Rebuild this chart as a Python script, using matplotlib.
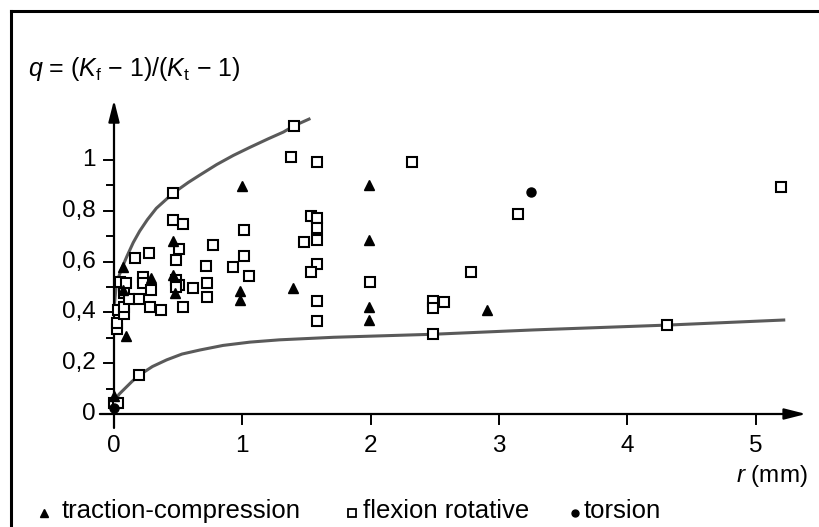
import numpy as np
import matplotlib.pyplot as plt
from matplotlib.lines import Line2D

plt.rcParams["font.family"] = ["Liberation Sans", "DejaVu Sans"]
plt.rcParams["mathtext.fontset"] = "custom"
plt.rcParams["mathtext.rm"] = "Liberation Sans"
plt.rcParams["mathtext.it"] = "Liberation Sans:italic"

# ── Data (r in mm, q) ─────────────────────────────────────────

# traction-compression (filled triangles)
tri_r = [0.00, 0.09, 0.073, 0.073, 0.286, 0.46, 0.46, 0.475, 0.995, 0.982,
         0.982, 1.393, 1.99, 1.99, 1.99, 1.99, 2.91]
tri_q = [0.07, 0.307, 0.58, 0.488, 0.534, 0.68, 0.547, 0.478, 0.898, 0.485,
         0.449, 0.497, 0.90, 0.685, 0.42, 0.37, 0.409]

# flexion rotative (hollow squares)
sq_r = [0.00, 0.03, 0.02, 0.02, 0.034, 0.078, 0.078, 0.078, 0.047, 0.094,
        0.12, 0.197, 0.46, 1.405, 2.49, 4.31,
        0.164, 0.275, 0.224, 0.224, 0.286, 0.197, 0.28, 0.37, 0.54, 0.457,
        0.54, 0.51, 0.48, 0.48, 0.509, 0.48, 0.618, 0.72, 0.727, 0.727,
        0.77, 0.93, 1.013, 1.013, 1.05, 1.377, 1.585, 2.32, 1.535, 1.585,
        1.585, 1.585, 1.48, 1.585, 1.535, 1.585, 1.585, 1.995, 2.484, 2.484,
        2.575, 2.78, 3.15, 5.20]
sq_q = [0.045, 0.045, 0.333, 0.357, 0.41, 0.394, 0.42, 0.478, 0.521, 0.514,
        0.453, 0.153, 0.869, 1.135, 0.314, 0.350,
        0.613, 0.633, 0.54, 0.514, 0.488, 0.453, 0.42, 0.41, 0.42, 0.764,
        0.748, 0.65, 0.606, 0.528, 0.508, 0.499, 0.495, 0.583, 0.517, 0.459,
        0.665, 0.578, 0.724, 0.622, 0.543, 1.01, 0.991, 0.991, 0.78, 0.773,
        0.734, 0.685, 0.676, 0.59, 0.56, 0.444, 0.366, 0.52, 0.445, 0.417,
        0.44, 0.56, 0.787, 0.892]

# torsion (filled dots)
dot_r = [3.25, 0.00]
dot_q = [0.875, 0.025]

# envelope curves
upper_r = [0.005, 0.016, 0.04, 0.07, 0.10, 0.15, 0.20, 0.26, 0.33, 0.46,
           0.58, 0.67, 0.80, 0.93, 1.06, 1.20, 1.32, 1.405, 1.52]
upper_q = [0.44, 0.50, 0.545, 0.585, 0.62, 0.675, 0.72, 0.765, 0.81, 0.869,
           0.912, 0.941, 0.982, 1.018, 1.05, 1.083, 1.11, 1.135, 1.161]
lower_r = [0.01, 0.04, 0.086, 0.14, 0.197, 0.30, 0.41, 0.53, 0.67, 0.85,
           1.06, 1.29, 1.71, 2.49, 3.27, 4.31, 5.22]
lower_q = [0.055, 0.078, 0.101, 0.128, 0.153, 0.187, 0.213, 0.236, 0.252,
           0.270, 0.283, 0.292, 0.302, 0.314, 0.331, 0.350, 0.370]

x_ticks = [0, 1, 2, 3, 4, 5]
y_ticks = [0, 0.2, 0.4, 0.6, 0.8, 1.0]
y_labels = ["0", "0,2", "0,4", "0,6", "0,8", "1"]
y_minor = [0.1, 0.3, 0.5, 0.7, 0.9]

# ── Figure: axes fill the canvas, limits chosen from pixel scale ──
W, H = 820, 527
X0, SX = 114, 128.3      # px of r=0, px per mm
Y0, SY = 414, 254        # px of q=0 (from top), px per unit

fig = plt.figure(figsize=(W / 100, H / 100), dpi=100)
ax = fig.add_axes([0, 0, 1, 1])
ax.set_xlim(-X0 / SX, (W - X0) / SX)
ax.set_ylim((Y0 - H) / SY, Y0 / SY)
ax.axis("off")

# frame (left + top)
fig.add_artist(Line2D([11 / W, 11 / W], [0, 1 - 11 / H], color="black", lw=2.2))
fig.add_artist(Line2D([11 / W, 1], [1 - 11 / H, 1 - 11 / H], color="black", lw=2.2))

# ── Axes with arrows ──────────────────────────────────────────
arrow = dict(arrowstyle="-|>,head_length=1.3,head_width=0.33",
             lw=1.6, color="black", shrinkA=0, shrinkB=0, mutation_scale=10)
ax.annotate("", xy=(5.394, 0), xytext=(-0.11, 0), arrowprops=arrow)
ax.annotate("", xy=(0, 1.236), xytext=(0, -0.055), arrowprops=arrow)

for t in y_ticks:
    ax.plot([-0.078, 0], [t, t], color="black", lw=1.4)
for t in y_minor:
    ax.plot([-0.055, 0], [t, t], color="black", lw=1.4)
for t in x_ticks[1:]:
    ax.plot([t, t], [0, -0.04], color="black", lw=1.4)

fs = 17.5
for t, lab in zip(y_ticks, y_labels):
    ax.text(-0.14, t, lab, ha="right", va="center", fontsize=fs)
for t in x_ticks:
    ax.text(t, -0.125, str(t), ha="center", va="center", fontsize=fs)

ax.text(5.41, -0.245, r"$r$ (mm)", ha="right", va="center", fontsize=fs)
ax.text(-0.67, 1.33, r"$q$ = ($K_{\mathrm{f}}$ $-$ 1)/($K_{\mathrm{t}}$ $-$ 1)",
        ha="left", va="baseline", fontsize=18)

# ── Curves and points ─────────────────────────────────────────
ax.plot(upper_r, upper_q, color="#5a5a5a", lw=2.2, zorder=2)
ax.plot(lower_r, lower_q, color="#5a5a5a", lw=2.2, zorder=2)

ax.plot(sq_r, sq_q, ls="none", marker="s", ms=6.5, mfc="white",
        mec="black", mew=1.5, zorder=3)
ax.plot(tri_r, tri_q, ls="none", marker="^", ms=7, color="black", zorder=4)
ax.plot(dot_r, dot_q, ls="none", marker="o", ms=6.5, color="black", zorder=4)

# ── Legend row ────────────────────────────────────────────────
ly = -0.41
lfs = 18.5
ax.plot([(44 - X0) / SX], [ly + 0.02], marker="^", ms=6, color="black")
ax.text((62 - X0) / SX, ly, "traction-compression", fontsize=lfs, va="baseline")
ax.plot([(352 - X0) / SX], [ly + 0.02], marker="s", ms=5.5, mfc="white",
        mec="black", mew=1.3)
ax.text((363 - X0) / SX, ly, "flexion rotative", fontsize=lfs, va="baseline")
ax.plot([(575 - X0) / SX], [ly + 0.02], marker="o", ms=5, color="black")
ax.text((584 - X0) / SX, ly, "torsion", fontsize=lfs, va="baseline")

fig.savefig("out.png", dpi=100)
